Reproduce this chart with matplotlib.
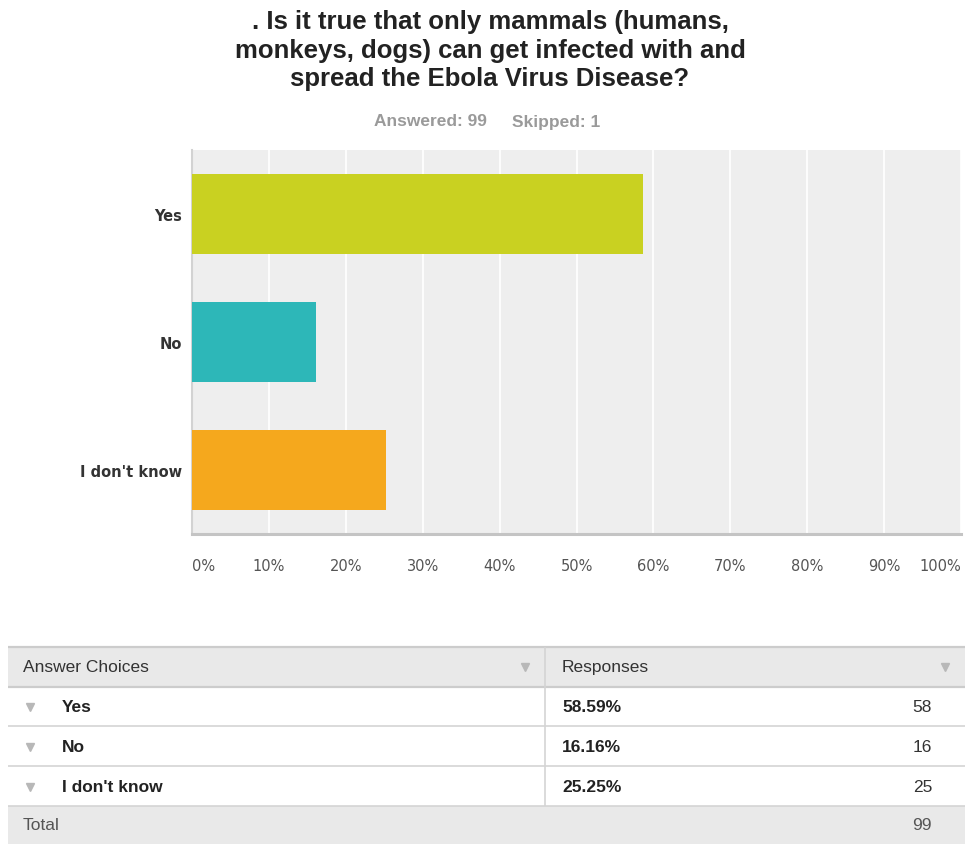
import matplotlib
matplotlib.use('Agg')
import matplotlib.pyplot as plt
from matplotlib.patches import Rectangle

W, H, DPI = 965, 845, 100

# survey data
title = (". Is it true that only mammals (humans,\n"
         "monkeys, dogs) can get infected with and\n"
         "spread the Ebola Virus Disease?")
answered = 99
skipped = 1
choices = ["Yes", "No", "I don't know"]
pct = [58.59, 16.16, 25.25]
counts = [58, 16, 25]
colors = ["#c9d121", "#2db7b8", "#f5a81d"]
ticks = list(range(0, 101, 10))

SANS = ['Liberation Sans', 'DejaVu Sans']


def fx(px):
    return px / W


def fy(py):
    return 1 - py / H


fig = plt.figure(figsize=(W / DPI, H / DPI), dpi=DPI)

# bar chart
ax = fig.add_axes([fx(192), fy(535), (961 - 192) / W, (535 - 151) / H])
ax.set_facecolor('#eeeeee')
ypos = range(len(choices))
ax.barh(ypos, pct, height=0.625, color=colors, zorder=3)
ax.set_xlim(0, 100)
ax.set_ylim(len(choices) - 0.5, -0.5)
ax.set_xticks(ticks)
ax.set_xticklabels([f"{t}%" for t in ticks])
ax.set_yticks(list(ypos))
ax.set_yticklabels(choices, fontweight='bold', color='#333333')
ax.xaxis.grid(True, color='white', linewidth=1.2)
ax.set_axisbelow(True)
ax.tick_params(axis='x', length=0, pad=17, labelsize=10.5, labelcolor='#555555')
ax.tick_params(axis='y', length=0, pad=7, labelsize=10.5)
for s in ['top', 'right']:
    ax.spines[s].set_visible(False)
ax.spines['left'].set_color('#d2d2d2')
ax.spines['left'].set_linewidth(1.5)
ax.spines['bottom'].set_color('#c4c4c4')
ax.spines['bottom'].set_linewidth(2.2)
xtl = ax.get_xticklabels()
xtl[0].set_ha('left')
xtl[-1].set_ha('right')

# title + counts
fig.text(fx(490), fy(10), title, ha='center', va='top', fontsize=18.5,
         fontweight='bold', family=SANS, color='#222222', linespacing=1.24)
fig.text(fx(487), fy(122), f"Answered: {answered}", ha='right', va='center',
         fontsize=12.5, fontweight='bold', family=SANS, color='#9a9a9a')
fig.text(fx(512), fy(122), f"Skipped: {skipped}", ha='left', va='center',
         fontsize=12.5, fontweight='bold', family=SANS, color='#9a9a9a')

# table below
tax = fig.add_axes([0, 0, 1, 205 / H])
tax.set_xlim(0, W)
tax.set_ylim(845, 640)
tax.axis('off')

tax.add_patch(Rectangle((8, 648), W - 8, 40, fc='#e9e9e9', ec='none'))
tax.add_patch(Rectangle((8, 807), W - 8, 38, fc='#e9e9e9', ec='none'))
tax.hlines([648, 688], 8, W, color='#cccccc', lw=1.6)
tax.hlines([727, 767, 807], 8, W, color='#d4d4d4', lw=1.2)
tax.vlines(545, 648, 807, color='#d4d4d4', lw=1.2)

tfont = dict(family=SANS, fontsize=12.5, va='center')
tax.text(23, 668, "Answer Choices", color='#333333', **tfont)
tax.text(562, 668, "Responses", color='#333333', **tfont)
tax.plot([525, 945], [668, 668], ls='none', marker='v', ms=6, color='#b8b8b8')

row_y = [708, 748, 788]
for y, c, p, n in zip(row_y, choices, pct, counts):
    tax.plot(30, y, marker='v', ms=6, color='#b8b8b8')
    tax.text(62, y, c, color='#222222', fontweight='bold', **tfont)
    tax.text(562, y, f"{p:.2f}%", color='#222222', fontweight='bold', **tfont)
    tax.text(932, y, str(n), color='#333333', ha='right', **tfont)

tax.text(23, 826, "Total", color='#555555', **tfont)
tax.text(932, 826, str(answered), color='#555555', ha='right', **tfont)

fig.savefig('out.png', dpi=DPI)
